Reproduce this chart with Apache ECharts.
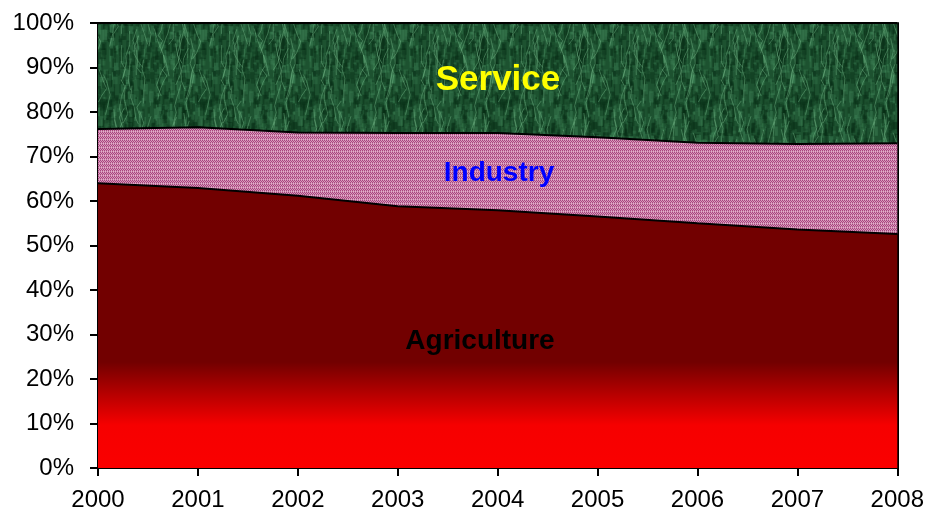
<!DOCTYPE html>
<html><head><meta charset="utf-8">
<script src="https://cdn.jsdelivr.net/npm/echarts@6/dist/echarts.min.js"></script>
<style>html,body{margin:0;padding:0;background:#fff}#c{width:927px;height:520px}</style>
</head><body><div id="c"></div>
<script>
var years = ['2000','2001','2002','2003','2004','2005','2006','2007','2008'];
var agriculture = [64.0, 62.9, 61.2, 58.8, 57.9, 56.5, 55.0, 53.6, 52.6];
var industry    = [12.2, 13.7, 14.2, 16.5, 17.4, 17.8, 18.1, 19.2, 20.4];
var service     = [23.8, 23.4, 24.6, 24.7, 24.7, 25.7, 26.9, 27.2, 27.0];
var yTicks = [0,10,20,30,40,50,60,70,80,90,100];

function rng(seed){ var s = seed; return function(){ s = (s*16807) % 2147483647; return (s-1)/2147483646; }; }

function marble(){
  var W = 100, H = 110;
  var c = document.createElement('canvas'); c.width = W; c.height = H;
  var g = c.getContext('2d'); var r = rng(12345);
  g.fillStyle = '#1d5230'; g.fillRect(0,0,W,H);
  function wrapRect(x,y,w,h){
    for (var dx=-W; dx<=W; dx+=W) for (var dy=-H; dy<=H; dy+=H) g.fillRect(x+dx,y+dy,w,h);
  }
  for (var i=0;i<650;i++){
    var x=r()*W, y=r()*H, w=1+r()*4, h=3+r()*10;
    var v=r();
    g.fillStyle = v<0.55 ? 'rgba(8,45,22,'+(0.25+r()*0.3)+')' : 'rgba(65,135,90,'+(0.15+r()*0.3)+')';
    wrapRect(x,y,w,h);
  }
  g.strokeStyle='rgba(115,185,135,0.45)'; g.lineWidth=1;
  for (var j=0;j<35;j++){
    var x0=r()*W, y0=r()*H, pts=[[x0,y0]];
    for (var k=0;k<4;k++){ x0+= (r()-0.5)*10; y0+= 5+r()*10; pts.push([x0,y0]); }
    for (var dx=-W; dx<=W; dx+=W) for (var dy=-H; dy<=H; dy+=H){
      g.beginPath(); g.moveTo(pts[0][0]+dx, pts[0][1]+dy);
      for (var p=1;p<pts.length;p++) g.lineTo(pts[p][0]+dx, pts[p][1]+dy);
      g.stroke();
    }
  }
  return c;
}
function pinkDots(){
  var c = document.createElement('canvas'); c.width = 4; c.height = 4;
  var g = c.getContext('2d');
  for (var y=0;y<4;y++) for (var x=0;x<4;x++){
    g.fillStyle = ((x+y)%2===0) ? '#a8467e' : '#d898bb';
    if (y===3) g.fillStyle = ((x)%2===0) ? '#c47aa2' : '#e2b0ca';
    g.fillRect(x,y,1,1);
  }
  return c;
}

var chart = echarts.init(document.getElementById('c'), null, {renderer:'canvas'});
var font = 'Arial, "Liberation Sans", sans-serif';
chart.setOption({
  animation:false,
  grid:{left:98, right:29, top:23, bottom:52},
  xAxis:{type:'category', data:years, boundaryGap:false,
    axisLine:{lineStyle:{color:'#000', width:2}},
    axisTick:{show:true, length:8, lineStyle:{color:'#000', width:2}},
    axisLabel:{color:'#000', fontSize:24, fontFamily:font, margin:20},
    splitLine:{show:false}},
  yAxis:[{type:'value', min:0, max:100, interval:10,
    axisLine:{show:true, lineStyle:{color:'#000', width:2}},
    axisTick:{show:true, length:8, lineStyle:{color:'#000', width:2}},
    axisLabel:{color:'#000', fontSize:24, fontFamily:font, margin:24,
      formatter:function(v){ return yTicks.indexOf(v)>=0 ? v+'%' : ''; }},
    splitLine:{show:false}},
   {type:'value', min:0, max:100, interval:10, position:'right',
    axisLine:{show:true, lineStyle:{color:'#000', width:2}},
    axisTick:{show:true, inside:true, length:4, lineStyle:{color:'#000', width:1}},
    axisLabel:{show:false}, splitLine:{show:false}}],
  series:[
    {name:'Agriculture', type:'line', stack:'t', data:agriculture, symbol:'none',
      lineStyle:{color:'#000', width:2},
      areaStyle:{opacity:1, color:{type:'linear', global:true, x:0, y:0, x2:0, y2:520,
        colorStops:[{offset:0, color:'#720000'},{offset:362/520, color:'#720000'},
          {offset:395/520, color:'#b80000'},{offset:425/520, color:'#f60000'},{offset:1, color:'#ff0000'}]}}},
    {name:'Industry', type:'line', stack:'t', data:industry, symbol:'none',
      lineStyle:{color:'#000', width:2},
      areaStyle:{opacity:1, color:{image:pinkDots(), repeat:'repeat'}}},
    {name:'Service', type:'line', stack:'t', data:service, symbol:'none',
      lineStyle:{color:'#000', width:2},
      areaStyle:{opacity:1, color:{image:marble(), repeat:'repeat'}}}
  ],
  graphic:{elements:[
    {type:'text', z:100, x:498, y:80, style:{text:'Service', align:'center', verticalAlign:'middle', font:'bold 35px '+font, fill:'#ffff00'}},
    {type:'text', z:100, x:499, y:173, style:{text:'Industry', align:'center', verticalAlign:'middle', font:'bold 28px '+font, fill:'#0000ff'}},
    {type:'text', z:100, x:480, y:341, style:{text:'Agriculture', align:'center', verticalAlign:'middle', font:'bold 28px '+font, fill:'#000000'}}
  ]}
});
</script></body></html>
